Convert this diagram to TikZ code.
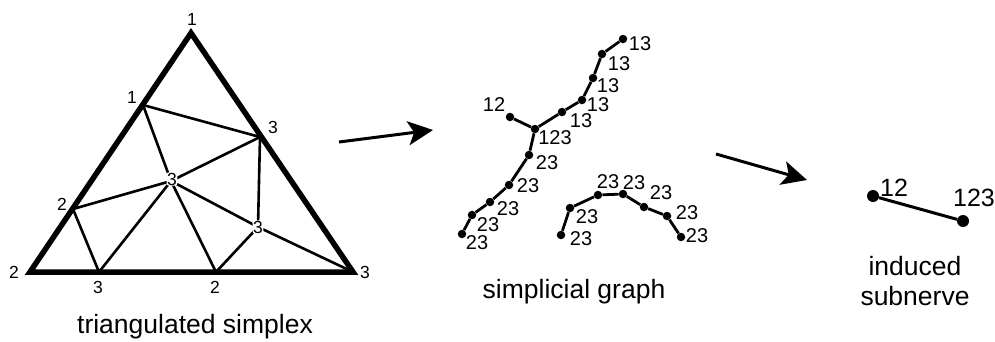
\documentclass[tikz,border=0pt]{standalone}
\usepackage{fontspec}
\setmainfont{Liberation Sans}
\usetikzlibrary{arrows.meta}
\begin{document}
\begin{tikzpicture}[x=1pt,y=-1pt,
  outer/.style={line width=5.5pt, line join=miter},
  inner/.style={line width=2.6pt},
  gedge/.style={line width=2.8pt},
  gdot/.style={circle, fill=black, inner sep=0pt, minimum size=8.5pt},
  bigdot/.style={circle, fill=black, inner sep=0pt, minimum size=12pt},
  tlab/.style={font=\fontsize{17.5}{17.5}\selectfont, inner sep=0pt},
  haloed/.style={tlab, fill=white, inner sep=0.4pt, rounded corners=2pt},
  glab/.style={font=\fontsize{20}{20}\selectfont, inner sep=0pt},
  slab/.style={font=\fontsize{25}{25}\selectfont, inner sep=0pt},
  captext/.style={font=\fontsize{26.5}{30}\selectfont, inner sep=0pt, anchor=base, align=center},
  arrowline/.style={line width=3pt, -{Stealth[length=25pt,width=24pt,inset=6pt]}}
]
\useasboundingbox (0,0) rectangle (995,341);

% ---------- triangulated simplex ----------
\coordinate (T) at (191,33);
\coordinate (BL) at (30,272);
\coordinate (BR) at (353,272);
\coordinate (L1) at (143,105);
\coordinate (R3) at (260,137);
\coordinate (C3) at (171,181);
\coordinate (L2) at (73,209);
\coordinate (I3) at (258,227);
\coordinate (B3) at (99,272);
\coordinate (B2) at (216,272);

\draw[inner] (L1) -- (R3);
\draw[inner] (L1) -- (C3);
\draw[inner] (R3) -- (C3);
\draw[inner] (R3) -- (I3);
\draw[inner] (L2) -- (C3);
\draw[inner] (L2) -- (B3);
\draw[inner] (B3) -- (C3);
\draw[inner] (C3) -- (B2);
\draw[inner] (C3) -- (I3);
\draw[inner] (B2) -- (I3);
\draw[inner] (I3) -- (BR);
\draw[outer] (T) -- (BL) -- (BR) -- cycle;

\node[tlab] (lT) at (192,19) {1};
\node[tlab] (lL1) at (132,97) {1};
\node[tlab] (lR3) at (273,127) {3};
\node[tlab] (lL2) at (62,204) {2};
\node[tlab] (lBL) at (14,272) {2};
\node[tlab] (lB3) at (98,287) {3};
\node[tlab] (lB2) at (215,287) {2};
\node[tlab] (lBR) at (365,272) {3};
\node[haloed] (lC3) at (172,179) {3};
\node[haloed] (lI3) at (258,227) {3};

\node[captext] (cap1) at (195,333) {triangulated simplex};

% ---------- arrow 1 ----------
\coordinate (a1s) at (339,142);
\coordinate (a1e) at (433,130);
\draw[arrowline] (a1s) -- (a1e);

% ---------- simplicial graph ----------
\node[gdot] (g1) at (623,39) {};
\node[gdot] (g2) at (602,54) {};
\node[gdot] (g3) at (593,78) {};
\node[gdot] (g4) at (582,100) {};
\node[gdot] (g5) at (562,112) {};
\node[gdot] (g6) at (535,129) {};
\node[gdot] (g0) at (510,117) {};
\node[gdot] (g7) at (529,155) {};
\node[gdot] (g8) at (509,185) {};
\node[gdot] (g9) at (490,202) {};
\node[gdot] (g10) at (472,215) {};
\node[gdot] (g11) at (462,234) {};

\draw[gedge] (g1) -- (g2) -- (g3) -- (g4) -- (g5) -- (g6) -- (g7) -- (g8) -- (g9) -- (g10) -- (g11);
\draw[gedge] (g0) -- (g6);

\node[glab] (t1) at (640,44) {13};
\node[glab] (t2) at (619,64) {13};
\node[glab] (t3) at (608,86) {13};
\node[glab] (t4) at (598,105) {13};
\node[glab] (t5) at (581,121) {13};
\node[glab] (t6) at (555,138) {123};
\node[glab] (t0) at (494,105) {12};
\node[glab] (t7) at (547,163) {23};
\node[glab] (t8) at (528,186) {23};
\node[glab] (t9) at (508,209) {23};
\node[glab] (t10) at (488,225) {23};
\node[glab] (t11) at (477,243) {23};

\node[gdot] (h1) at (561,235) {};
\node[gdot] (h2) at (570,208) {};
\node[gdot] (h3) at (598,195) {};
\node[gdot] (h4) at (623,194) {};
\node[gdot] (h5) at (644,207) {};
\node[gdot] (h6) at (667,216) {};
\node[gdot] (h7) at (681,237) {};
\draw[gedge] (h1) -- (h2) -- (h3) -- (h4) -- (h5) -- (h6) -- (h7);

\node[glab] (u1) at (581,239) {23};
\node[glab] (u2) at (587,217) {23};
\node[glab] (u3) at (608,182) {23};
\node[glab] (u4) at (634,183) {23};
\node[glab] (u5) at (661,193) {23};
\node[glab] (u6) at (687,213) {23};
\node[glab] (u7) at (697,236) {23};

\node[captext] (cap2) at (574,298) {simplicial graph};

% ---------- arrow 2 ----------
\coordinate (a2s) at (716,154);
\coordinate (a2e) at (807,180);
\draw[arrowline] (a2s) -- (a2e);

% ---------- induced subnerve ----------
\node[bigdot] (n1) at (873,196) {};
\node[bigdot] (n2) at (963,221) {};
\draw[line width=3pt] (n1) -- (n2);
\node[slab] (m1) at (894,188) {12};
\node[slab] (m2) at (974,198) {123};

\node[captext] (cap3a) at (915,275) {induced};
\node[captext] (cap3b) at (915,305) {subnerve};
\end{tikzpicture}
\end{document}
